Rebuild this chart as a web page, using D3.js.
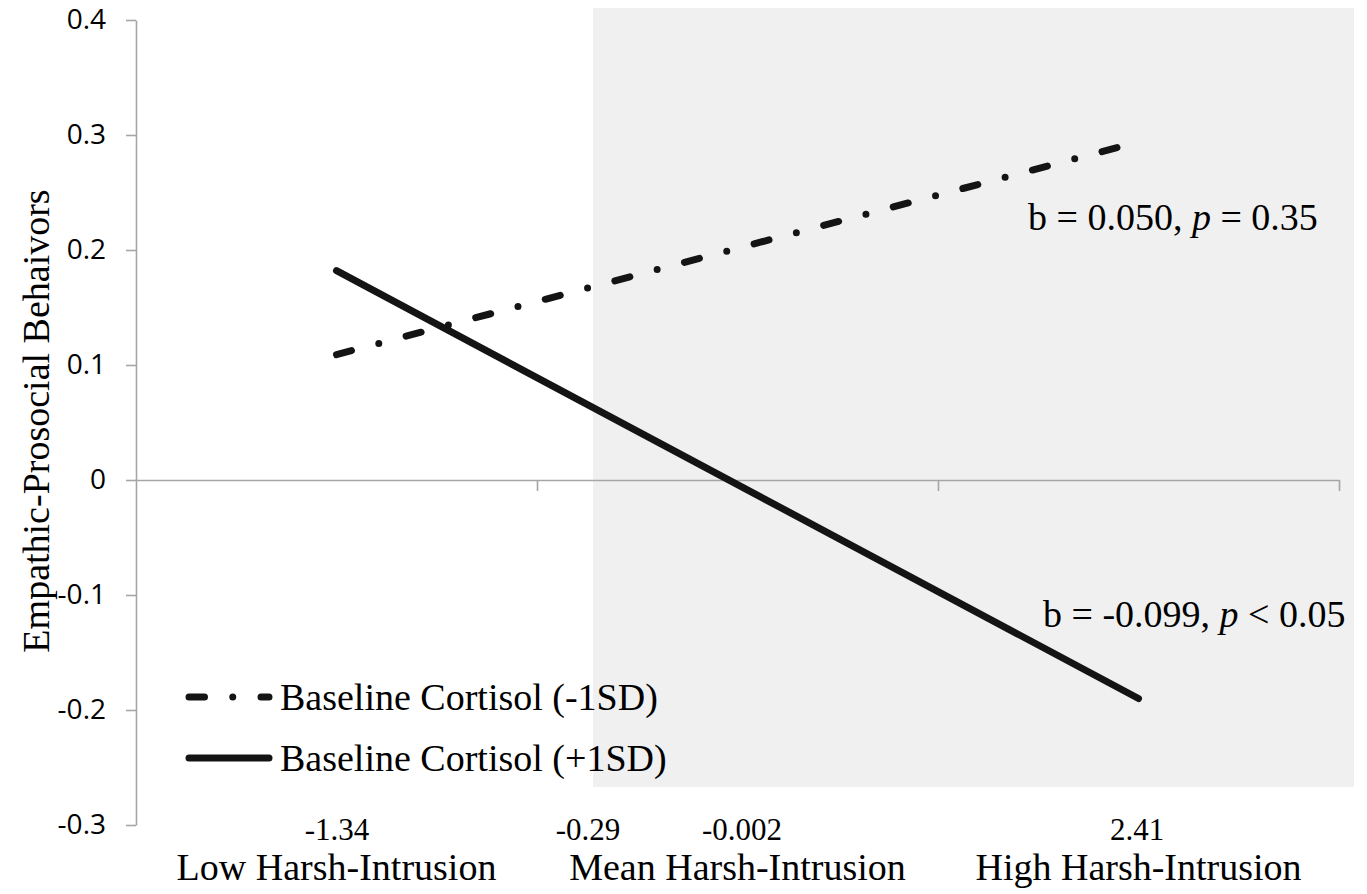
<!DOCTYPE html>
<html>
<head>
<meta charset="utf-8">
<script src="https://cdn.jsdelivr.net/npm/d3@7"></script>
<style>
  html, body { margin: 0; padding: 0; background: #fff; }
  svg { display: block; }
</style>
</head>
<body>
<svg id="chart" width="1367" height="894"></svg>
<script>
// ---------- data ----------
const categories = ["Low Harsh-Intrusion", "Mean Harsh-Intrusion", "High Harsh-Intrusion"];
const seriesCategories = ["Low Harsh-Intrusion", "High Harsh-Intrusion"];
const seriesNames = ["Baseline Cortisol (-1SD)", "Baseline Cortisol (+1SD)"];
const lowCortisolValues = [0.109, 0.294];
const highCortisolValues = [0.182, -0.190];
const yTickValues = [-0.3, -0.2, -0.1, 0, 0.1, 0.2, 0.3, 0.4];
const yTickLabels = ["-0.3", "-0.2", "-0.1", "0", "0.1", "0.2", "0.3", "0.4"];
const moderatorLabels = ["-1.34", "-0.29", "-0.002", "2.41"];
const slopeLabels = ["0.050", "-0.099"];
const pLabels = ["= 0.35", "< 0.05"];
const yTitle = "Empathic-Prosocial Behaivors";

// ---------- layout ----------
const L = {
  x0: 136, x1: 1339, yTop: 20, yBot: 825,
  shade: { x0: 593, x1: 1354, y0: 8, y1: 787 },
  modLabelX: [337, 588, 742, 1137], modLabelY: 840,
  catLabelY: 880,
  annot: [{ x: 1028, y: 230 }, { x: 1043, y: 627 }],
  legend: { x0: 189, x1: 269, textX: 280, rows: [697, 758] },
  yTitleX: 49, yTitleY: 421
};
const serif = "'Liberation Serif', 'Times New Roman', serif";
const sans = "'Open Sans', 'Noto Sans', sans-serif";
const lineColor = "#141414";
const axisColor = "#a6a6a6";
const dashPattern = "15.5 28.25 0 28.25";

const svg = d3.select("#chart");

// scales
const x = d3.scaleBand().domain(categories).range([L.x0, L.x1]).paddingInner(0).paddingOuter(0);
const xb = d3.scaleLinear().domain([0, categories.length]).range([L.x0, L.x1]);
const y = d3.scaleLinear().domain([-0.3, 0.4]).range([L.yBot, L.yTop]);
const cx = c => x(c) + x.bandwidth() / 2;

// shaded region of significance
svg.append("rect")
  .attr("x", L.shade.x0).attr("y", L.shade.y0)
  .attr("width", L.shade.x1 - L.shade.x0).attr("height", L.shade.y1 - L.shade.y0)
  .attr("fill", "#f0f0f0");

// y axis
const yAxis = svg.append("g")
  .attr("transform", `translate(${L.x0},0)`)
  .call(d3.axisLeft(y).tickValues(yTickValues).tickSize(10).tickSizeOuter(0)
    .tickPadding(20)
    .tickFormat((d, i) => yTickLabels[i]));
yAxis.select(".domain").attr("stroke", axisColor).attr("stroke-width", 1.6);
yAxis.selectAll(".tick line").attr("stroke", axisColor).attr("stroke-width", 1.6);
yAxis.selectAll(".tick text")
  .attr("font-family", sans).attr("font-size", 28).attr("fill", "#000");

// x axis at y = 0
const xAxis = svg.append("g")
  .attr("transform", `translate(0,${y(0)})`)
  .call(d3.axisBottom(xb).tickValues(d3.range(1, categories.length + 1)).tickSize(11)
    .tickSizeOuter(0).tickFormat(""));
xAxis.select(".domain").attr("stroke", axisColor).attr("stroke-width", 1.6);
xAxis.selectAll(".tick line").attr("stroke", axisColor).attr("stroke-width", 1.6);

// lines
const line = d3.line().x(d => cx(d.c)).y(d => y(d.v));
const lowData = seriesCategories.map((c, i) => ({ c, v: lowCortisolValues[i] }));
const highData = seriesCategories.map((c, i) => ({ c, v: highCortisolValues[i] }));

svg.append("path").datum(highData)
  .attr("d", line).attr("fill", "none")
  .attr("stroke", lineColor).attr("stroke-width", 7).attr("stroke-linecap", "round");

svg.append("path").datum(lowData)
  .attr("d", line).attr("fill", "none")
  .attr("stroke", lineColor).attr("stroke-width", 7).attr("stroke-linecap", "round")
  .attr("stroke-dasharray", dashPattern);

// moderator value labels
svg.append("g").selectAll("text").data(moderatorLabels).join("text")
  .attr("x", (d, i) => L.modLabelX[i]).attr("y", L.modLabelY)
  .attr("text-anchor", "middle")
  .attr("font-family", serif).attr("font-size", 31).attr("fill", "#000")
  .text(d => d);

// category labels
svg.append("g").selectAll("text").data(categories).join("text")
  .attr("x", d => cx(d)).attr("y", L.catLabelY)
  .attr("text-anchor", "middle")
  .attr("font-family", serif).attr("font-size", 38).attr("fill", "#000")
  .text(d => d);

// y title
svg.append("text")
  .attr("transform", `translate(${L.yTitleX},${L.yTitleY}) rotate(-90)`)
  .attr("text-anchor", "middle")
  .attr("font-family", serif).attr("font-size", 38).attr("fill", "#000")
  .text(yTitle);

// slope annotations
slopeLabels.forEach((s, i) => {
  const t = svg.append("text")
    .attr("x", L.annot[i].x).attr("y", L.annot[i].y)
    .attr("font-family", serif).attr("font-size", 38).attr("fill", "#000")
    .attr("xml:space", "preserve");
  t.append("tspan").text(`b = ${s}, `);
  t.append("tspan").attr("font-style", "italic").text("p");
  t.append("tspan").text(` ${pLabels[i]}`);
});

// legend
const legend = svg.append("g");
seriesNames.forEach((name, i) => {
  const yy = L.legend.rows[i];
  const p = legend.append("line")
    .attr("x1", L.legend.x0).attr("x2", L.legend.x1).attr("y1", yy).attr("y2", yy)
    .attr("stroke", lineColor).attr("stroke-width", 7).attr("stroke-linecap", "round");
  if (i === 0) p.attr("stroke-dasharray", dashPattern);
  legend.append("text")
    .attr("x", L.legend.textX).attr("y", yy).attr("dy", "0.33em")
    .attr("font-family", serif).attr("font-size", 38).attr("fill", "#000")
    .text(name);
});
</script>
</body>
</html>
